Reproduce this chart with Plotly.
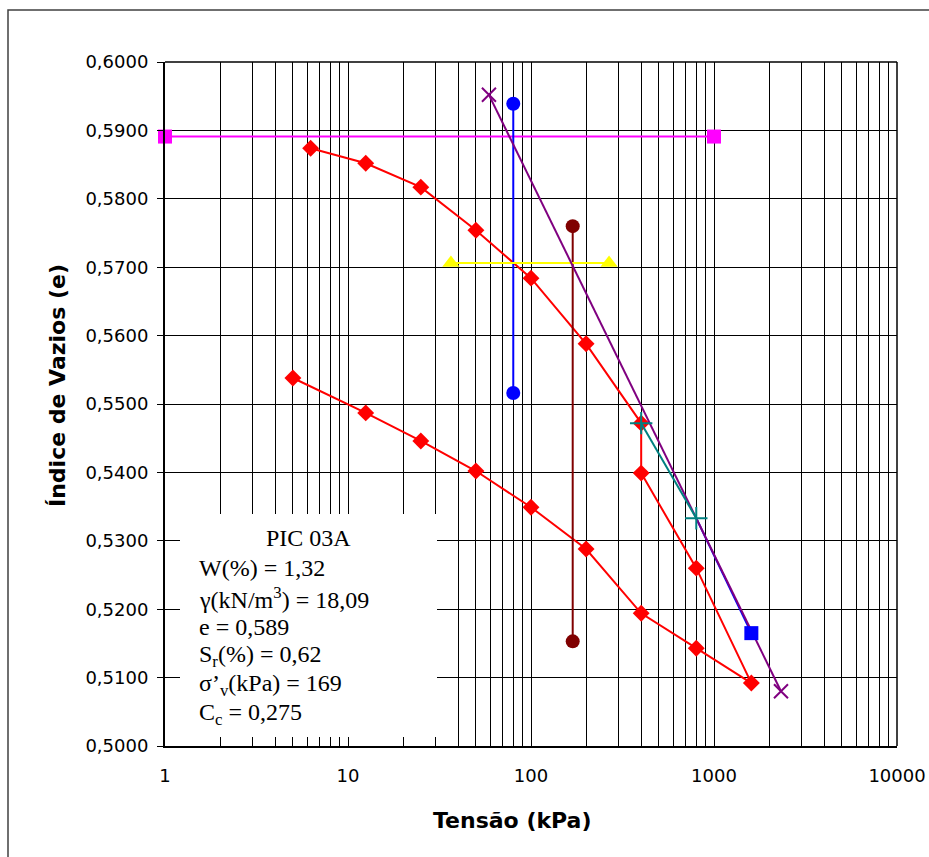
import plotly.graph_objects as go

# ---- data ----
red_tensao = [6.25, 12.5, 25, 50, 100, 200, 400, 400, 800, 1600, 800, 400, 200, 100, 50, 25, 12.5, 5]
red_e = [0.5874, 0.5852, 0.5817, 0.5754, 0.5684, 0.5588, 0.5472, 0.5399, 0.5260, 0.5092,
         0.5143, 0.5194, 0.5288, 0.5349, 0.5402, 0.5446, 0.5487, 0.5538]
magenta_tensao = [1, 1000]
magenta_e = [0.5891, 0.5891]
blue_v_tensao = [80, 80]
blue_v_e = [0.5939, 0.5516]
maroon_tensao = [169, 169]
maroon_e = [0.5760, 0.5153]
yellow_tensao = [36.5, 267]
yellow_e = [0.5706, 0.5706]
purple_tensao = [58.9, 2323]
purple_e = [0.5952, 0.5080]
teal_tensao = [400, 800]
teal_e = [0.5472, 0.5333]
bluesq_tensao = [800, 1600]
bluesq_e = [0.5333, 0.5165]

x_ticks = [1, 10, 100, 1000, 10000]
x_labels = ["1", "10", "100", "1000", "10000"]
box_title = "PIC 03A"
box_lines = ["W(%) = 1,32", "γ(kN/m<sup>3</sup>) = 18,09", "e = 0,589",
             "S<sub>r</sub>(%) = 0,62", "σ’<sub>v</sub>(kPa) = 169", "C<sub>c</sub> = 0,275"]

# ---- figure ----
W, H = 929, 857
L, R, T, B = 165, 897, 62, 746
pw, ph = R - L, B - T

def px(xp):
    return (xp - L) / pw

def py(yp):
    return (B - yp) / ph

fig = go.Figure()

fig.add_trace(go.Scatter(x=magenta_tensao, y=magenta_e, mode="lines+markers", cliponaxis=False,
                         line=dict(color="#FF00FF", width=2),
                         marker=dict(symbol="square", size=14, color="#FF00FF")))
fig.add_trace(go.Scatter(x=bluesq_tensao, y=bluesq_e, mode="lines", cliponaxis=False,
                         line=dict(color="#0000FF", width=2)))
fig.add_trace(go.Scatter(x=red_tensao, y=red_e, mode="lines+markers", cliponaxis=False,
                         line=dict(color="#FF0000", width=2),
                         marker=dict(symbol="diamond", size=13, color="#FF0000")))
fig.add_trace(go.Scatter(x=blue_v_tensao, y=blue_v_e, mode="lines+markers", cliponaxis=False,
                         line=dict(color="#0000FF", width=2),
                         marker=dict(symbol="circle", size=14, color="#0000FF")))
fig.add_trace(go.Scatter(x=maroon_tensao, y=maroon_e, mode="lines+markers", cliponaxis=False,
                         line=dict(color="#800000", width=2),
                         marker=dict(symbol="circle", size=14, color="#800000")))
fig.add_trace(go.Scatter(x=yellow_tensao, y=yellow_e, mode="lines+markers", cliponaxis=False,
                         line=dict(color="#FFFF00", width=2),
                         marker=dict(symbol="triangle-up", size=15, color="#FFFF00")))
fig.add_trace(go.Scatter(x=purple_tensao, y=purple_e, mode="lines+markers", cliponaxis=False,
                         line=dict(color="#800080", width=2),
                         marker=dict(symbol="x-thin", size=14, color="#800080",
                                     line=dict(color="#800080", width=2))))
fig.add_trace(go.Scatter(x=teal_tensao, y=teal_e, mode="lines+markers", cliponaxis=False,
                         line=dict(color="#008080", width=2),
                         marker=dict(symbol="cross-thin", size=16, color="#008080",
                                     line=dict(color="#008080", width=2))))
fig.add_trace(go.Scatter(x=bluesq_tensao[1:], y=bluesq_e[1:], mode="markers", cliponaxis=False,
                         marker=dict(symbol="square", size=14, color="#0000FF")))

minor_vals = [k * 10 ** d for d in range(4) for k in range(2, 10)]
yt_vals = [round(0.5 + i * 0.01, 2) for i in range(11)]

fig.update_xaxes(type="log", range=[0, 4], tickvals=x_ticks, ticktext=x_labels,
                 showgrid=True, gridcolor="#000000", gridwidth=1,
                 ticks="inside", ticklen=5, tickcolor="#000000",
                 minor=dict(tickvals=minor_vals, showgrid=True, gridcolor="#000000",
                            gridwidth=1, ticks="inside", ticklen=5, tickcolor="#000000"),
                 showline=True, linecolor="#000000", linewidth=2, mirror=False,
                 zeroline=False, ticklabelstandoff=12, automargin=False,
                 tickfont=dict(family="DejaVu Sans", size=18, color="#000000"))
fig.update_yaxes(range=[0.5, 0.6], tickvals=yt_vals, tickformat=".4f",
                 showgrid=True, gridcolor="#000000", gridwidth=1,
                 ticks="outside", ticklen=6, tickcolor="#000000",
                 showline=True, linecolor="#000000", linewidth=2,
                 zeroline=False, ticklabelstandoff=5, automargin=False,
                 tickfont=dict(family="DejaVu Sans", size=18, color="#000000"))

shapes = [
    # outer frame
    dict(type="rect", xref="paper", yref="paper",
         x0=px(8), x1=px(940), y0=py(870), y1=py(10),
         line=dict(color="#404040", width=1.5), fillcolor="rgba(0,0,0,0)", layer="below"),
    # top and right plot border
    dict(type="line", xref="paper", yref="paper", x0=0, x1=1, y0=1, y1=1,
         line=dict(color="#000000", width=1.5), layer="below"),
    dict(type="line", xref="paper", yref="paper", x0=1, x1=1, y0=0, y1=1,
         line=dict(color="#000000", width=1.5), layer="below"),
    # text box
    dict(type="rect", xref="paper", yref="paper",
         x0=px(180), x1=px(437), y0=py(737), y1=py(514),
         line=dict(width=0), fillcolor="#FFFFFF", layer="above"),
]

annotations = [
    dict(text="Índice de Vazios (e)", xref="paper", yref="paper", x=px(57), y=py(386),
         textangle=-90, showarrow=False, xanchor="center", yanchor="middle",
         font=dict(family="DejaVu Sans", size=22, color="#000000", weight="bold")),
    dict(text="Tensão (kPa)", xref="paper", yref="paper", x=px(512), y=py(820),
         showarrow=False, xanchor="center", yanchor="middle",
         font=dict(family="DejaVu Sans", size=22, color="#000000", weight="bold")),
    dict(text=box_title, xref="paper", yref="paper", x=px(308), y=py(538),
         showarrow=False, xanchor="center", yanchor="middle",
         font=dict(family="Liberation Serif", size=24, color="#000000")),
]
ys = [568, 598, 627, 656, 685, 714]
for t, yc in zip(box_lines, ys):
    annotations.append(dict(text=t, xref="paper", yref="paper", x=px(197), y=py(yc),
                            showarrow=False, xanchor="left", yanchor="middle",
                            font=dict(family="Liberation Serif", size=24, color="#000000")))

fig.update_layout(width=W, height=H, margin=dict(l=L, r=W - R, t=T, b=H - B),
                  paper_bgcolor="#FFFFFF", plot_bgcolor="#FFFFFF",
                  showlegend=False, separators=",.",
                  shapes=shapes, annotations=annotations)

fig.write_html("out.html")
